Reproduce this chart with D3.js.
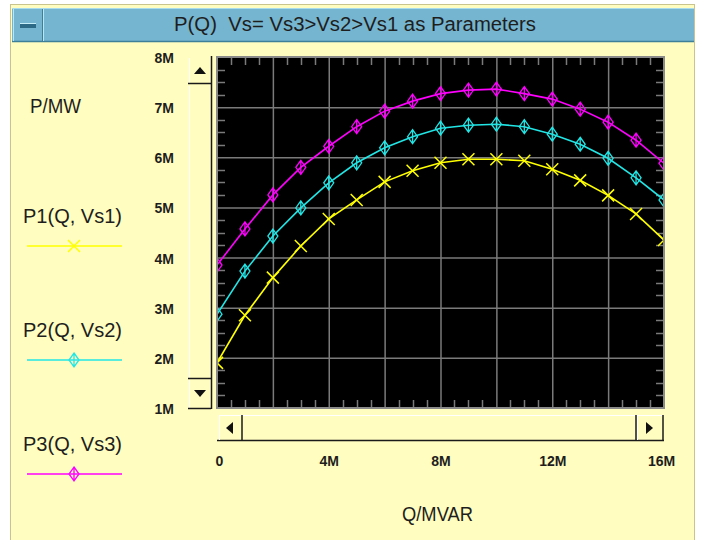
<!DOCTYPE html>
<html>
<head>
<meta charset="utf-8">
<script src="https://cdn.jsdelivr.net/npm/d3@7"></script>
<style>
  body { margin: 0; background: #ffffff; }
  text { font-family: "Liberation Sans", Arial, sans-serif; }
</style>
</head>
<body>
<div id="chart"></div>
<script>
// Q in M VAR, P in M W
var qValues = [0, 1, 2, 3, 4, 5, 6, 7, 8, 9, 10, 11, 12, 13, 14, 15, 16];
var p1Values = [1.9, 2.85, 3.6, 4.23, 4.77, 5.15, 5.51, 5.73, 5.89, 5.96, 5.96, 5.93, 5.76, 5.54, 5.24, 4.87, 4.35];
var p2Values = [2.87, 3.73, 4.43, 4.99, 5.49, 5.89, 6.19, 6.41, 6.58, 6.64, 6.66, 6.61, 6.46, 6.26, 5.98, 5.59, 5.15];
var p3Values = [3.85, 4.57, 5.25, 5.8, 6.22, 6.61, 6.92, 7.12, 7.27, 7.34, 7.36, 7.27, 7.16, 6.96, 6.7, 6.34, 5.88];
var seriesNames = ["P1(Q, Vs1)", "P2(Q, Vs2)", "P3(Q, Vs3)"];
var xTickValues = [0, 4, 8, 12, 16];
var yTickValues = [1, 2, 3, 4, 5, 6, 7, 8];

(function() {
  var width = 702, height = 540;
  var plot = { left: 217, right: 664, top: 57, bottom: 408 };

  var svg = d3.select("#chart")
    .append("svg")
    .attr("width", width)
    .attr("height", height);

  var yellowBg = "#fffdbf";
  var textColour = "#1e1e1e";

  // narrow looking window font: squeeze text to the measured width
  function label(x, y, str, size, len, anchor) {
    return svg.append("text")
      .attr("x", x).attr("y", y)
      .attr("text-anchor", anchor || "start")
      .attr("font-size", size + "px")
      .attr("fill", textColour)
      .attr("textLength", len)
      .attr("lengthAdjust", "spacingAndGlyphs")
      .style("white-space", "pre")
      .text(str);
  }

  // window frame
  svg.append("rect")
    .attr("x", 10.5).attr("y", 4.5)
    .attr("width", 684).attr("height", 540)
    .attr("fill", yellowBg)
    .attr("stroke", "#c9c38e");

  // title bar
  svg.append("rect")
    .attr("x", 12).attr("y", 8)
    .attr("width", 682).attr("height", 33)
    .attr("fill", "#76b5cf");
  svg.append("line")
    .attr("x1", 12).attr("x2", 694).attr("y1", 8.5).attr("y2", 8.5)
    .attr("stroke", "#a9dcec");
  svg.append("line")
    .attr("x1", 12).attr("x2", 694).attr("y1", 41.5).attr("y2", 41.5)
    .attr("stroke", "#3d7f99").attr("stroke-width", 1.5);
  // minimize button
  svg.append("line")
    .attr("x1", 42.5).attr("x2", 42.5).attr("y1", 9).attr("y2", 41)
    .attr("stroke", "#3d7f99");
  svg.append("line")
    .attr("x1", 43.5).attr("x2", 43.5).attr("y1", 9).attr("y2", 41)
    .attr("stroke", "#b8e6f2");
  svg.append("line")
    .attr("x1", 13.5).attr("x2", 13.5).attr("y1", 9).attr("y2", 41)
    .attr("stroke", "#b8e6f2");
  svg.append("rect")
    .attr("x", 20).attr("y", 23)
    .attr("width", 16).attr("height", 5)
    .attr("fill", "#2c6a86");
  svg.append("line")
    .attr("x1", 20).attr("x2", 36).attr("y1", 23.5).attr("y2", 23.5)
    .attr("stroke", "#c6eef8");

  label(174, 31, "P(Q)  Vs= Vs3>Vs2>Vs1 as Parameters", 20, 362);

  var xPositionScale = d3.scaleLinear().domain([0, 16]).range([plot.left, plot.right]);
  var yPositionScale = d3.scaleLinear().domain([1, 8]).range([plot.bottom, plot.top]);

  // vertical scrollbar
  var vs = svg.append("g");
  vs.append("line").attr("x1", 211.5).attr("x2", 211.5).attr("y1", 56).attr("y2", 409)
    .attr("stroke", "#1a1a1a").attr("stroke-width", 1.5);
  vs.append("line").attr("x1", 189.5).attr("x2", 189.5).attr("y1", 86).attr("y2", 378)
    .attr("stroke", "#ffffff");
  vs.append("line").attr("x1", 189.5).attr("x2", 189.5).attr("y1", 58).attr("y2", 83)
    .attr("stroke", "#ffffff");
  vs.append("line").attr("x1", 188).attr("x2", 211).attr("y1", 83.5).attr("y2", 83.5)
    .attr("stroke", "#1a1a1a").attr("stroke-width", 1.5);
  vs.append("line").attr("x1", 188).attr("x2", 211).attr("y1", 378.5).attr("y2", 378.5)
    .attr("stroke", "#1a1a1a").attr("stroke-width", 1.5);
  vs.append("line").attr("x1", 189.5).attr("x2", 189.5).attr("y1", 380).attr("y2", 408)
    .attr("stroke", "#ffffff");
  vs.append("line").attr("x1", 188).attr("x2", 211).attr("y1", 408.5).attr("y2", 408.5)
    .attr("stroke", "#1a1a1a").attr("stroke-width", 1.5);
  vs.append("path").attr("d", "M194,74 L206,74 L200,67 Z").attr("fill", "#111");
  vs.append("path").attr("d", "M194,390 L206,390 L200,397 Z").attr("fill", "#111");

  // horizontal scrollbar
  var hs = svg.append("g");
  hs.append("line").attr("x1", 217).attr("x2", 664).attr("y1", 440.5).attr("y2", 440.5)
    .attr("stroke", "#1a1a1a").attr("stroke-width", 1.5);
  hs.append("line").attr("x1", 219).attr("x2", 662).attr("y1", 415.5).attr("y2", 415.5)
    .attr("stroke", "#ffffff");
  hs.append("line").attr("x1", 242).attr("x2", 242).attr("y1", 415).attr("y2", 441)
    .attr("stroke", "#1a1a1a").attr("stroke-width", 1.5);
  hs.append("line").attr("x1", 219.5).attr("x2", 219.5).attr("y1", 415).attr("y2", 440)
    .attr("stroke", "#ffffff");
  hs.append("line").attr("x1", 637.5).attr("x2", 637.5).attr("y1", 415).attr("y2", 440)
    .attr("stroke", "#ffffff");
  hs.append("line").attr("x1", 636).attr("x2", 636).attr("y1", 415).attr("y2", 441)
    .attr("stroke", "#1a1a1a").attr("stroke-width", 1.5);
  hs.append("line").attr("x1", 663).attr("x2", 663).attr("y1", 415).attr("y2", 441)
    .attr("stroke", "#1a1a1a").attr("stroke-width", 1.5);
  hs.append("path").attr("d", "M226,428 L233,422 L233,434 Z").attr("fill", "#111");
  hs.append("path").attr("d", "M653,428 L646,422 L646,434 Z").attr("fill", "#111");

  // plot background
  svg.append("rect")
    .attr("x", plot.left).attr("y", plot.top)
    .attr("width", plot.right - plot.left).attr("height", plot.bottom - plot.top)
    .attr("fill", "#000000");

  var gridColor = "#7a7a7a";

  // grid lines
  svg.append("g")
    .selectAll("line")
    .data(d3.range(2, 16, 2))
    .enter().append("line")
    .attr("x1", function(d) { return xPositionScale(d) + 0.5 })
    .attr("x2", function(d) { return xPositionScale(d) + 0.5 })
    .attr("y1", plot.top).attr("y2", plot.bottom)
    .attr("stroke", gridColor).attr("stroke-width", 1.5);

  svg.append("g")
    .selectAll("line")
    .data(d3.range(2, 8, 1))
    .enter().append("line")
    .attr("y1", function(d) { return yPositionScale(d) + 0.5 })
    .attr("y2", function(d) { return yPositionScale(d) + 0.5 })
    .attr("x1", plot.left).attr("x2", plot.right)
    .attr("stroke", gridColor).attr("stroke-width", 1.5);

  // minor ticks
  var xMinor = d3.range(0.5, 16, 0.5).filter(function(d) { return d % 2 != 0 });
  var yMinor = d3.range(1.25, 8, 0.25).filter(function(d) { return d % 1 != 0 });

  var minor = svg.append("g").attr("stroke", gridColor).attr("stroke-width", 1.5);
  xMinor.forEach(function(d) {
    var x = Math.round(xPositionScale(d)) + 0.5;
    minor.append("line").attr("x1", x).attr("x2", x).attr("y1", plot.bottom).attr("y2", plot.bottom - 8);
    minor.append("line").attr("x1", x).attr("x2", x).attr("y1", plot.top).attr("y2", plot.top + 8);
  });
  yMinor.forEach(function(d) {
    var y = Math.round(yPositionScale(d)) + 0.5;
    minor.append("line").attr("y1", y).attr("y2", y).attr("x1", plot.left).attr("x2", plot.left + 8);
    minor.append("line").attr("y1", y).attr("y2", y).attr("x1", plot.right).attr("x2", plot.right - 8);
  });

  // plot border
  svg.append("rect")
    .attr("x", plot.left).attr("y", plot.top)
    .attr("width", plot.right - plot.left).attr("height", plot.bottom - plot.top)
    .attr("fill", "none")
    .attr("stroke", "#8a8a8a").attr("stroke-width", 2);

  // axes (labels only)
  var xAxis = d3.axisBottom(xPositionScale)
    .tickValues(xTickValues)
    .tickSize(0)
    .tickFormat(function(d) { return d == 0 ? "0" : d + "M" });

  var xg = svg.append("g")
    .attr("class", "axis x-axis")
    .attr("transform", "translate(0,453)")
    .call(xAxis);
  xg.select(".domain").remove();
  xg.selectAll("text")
    .attr("font-family", "'Liberation Sans', Arial, sans-serif")
    .attr("font-size", "14px")
    .attr("font-weight", "bold")
    .attr("fill", textColour);
  xg.selectAll(".tick text")
    .attr("dx", function(d) { return d == 0 ? 2 : (d == 16 ? -3 : 0) });

  var yAxis = d3.axisLeft(yPositionScale)
    .tickValues(yTickValues)
    .tickSize(0)
    .tickFormat(function(d) { return d + "M" });

  var yg = svg.append("g")
    .attr("class", "axis y-axis")
    .attr("transform", "translate(174,1)")
    .call(yAxis);
  yg.select(".domain").remove();
  yg.selectAll("text")
    .attr("x", 0)
    .attr("font-family", "'Liberation Sans', Arial, sans-serif")
    .attr("font-size", "14px")
    .attr("font-weight", "bold")
    .attr("fill", textColour);

  // axis titles
  label(30, 113, "P/MW", 20, 51);
  label(402, 521, "Q/MVAR", 20, 71);

  // series
  var series = [
    { name: seriesNames[0], values: p1Values, colour: "#ffff00", marker: "x" },
    { name: seriesNames[1], values: p2Values, colour: "#22e6e6", marker: "diamond" },
    { name: seriesNames[2], values: p3Values, colour: "#ff00ff", marker: "diamond" }
  ];

  svg.append("clipPath")
    .attr("id", "plot-clip")
    .append("rect")
    .attr("x", plot.left + 1).attr("y", plot.top + 1)
    .attr("width", plot.right - plot.left - 2).attr("height", plot.bottom - plot.top - 2);

  var line = d3.line()
    .x(function(d) { return xPositionScale(d.q) })
    .y(function(d) { return yPositionScale(d.p) });

  function drawMarker(g, type, x, y, colour) {
    if (type == "x") {
      g.append("path")
        .attr("d", "M" + (x - 6) + "," + (y - 6) + "L" + (x + 6) + "," + (y + 6) +
                   "M" + (x - 6) + "," + (y + 6) + "L" + (x + 6) + "," + (y - 6))
        .attr("stroke", colour).attr("stroke-width", 1.5).attr("fill", "none");
    } else {
      g.append("path")
        .attr("d", "M" + x + "," + (y - 7) + "L" + (x + 5) + "," + y + "L" + x + "," + (y + 7) +
                   "L" + (x - 5) + "," + y + "Z" +
                   "M" + x + "," + (y - 6) + "L" + x + "," + (y + 6))
        .attr("stroke", colour).attr("stroke-width", 1.3).attr("fill", "none");
    }
  }

  var plotArea = svg.append("g").attr("clip-path", "url(#plot-clip)");

  series.forEach(function(s) {
    var pts = qValues.map(function(q, i) { return { q: q, p: s.values[i] } });
    plotArea.append("path")
      .datum(pts)
      .attr("d", line)
      .attr("fill", "none")
      .attr("stroke", s.colour)
      .attr("stroke-width", 1.6);
    pts.forEach(function(d) {
      drawMarker(plotArea, s.marker, xPositionScale(d.q), yPositionScale(d.p), s.colour);
    });
  });

  // legend
  var legendY = [223, 337, 451];
  var legendLineY = [246, 360, 474];
  series.forEach(function(s, i) {
    label(23, legendY[i], s.name, 20, 99);
    svg.append("line")
      .attr("x1", 27).attr("x2", 122)
      .attr("y1", legendLineY[i]).attr("y2", legendLineY[i])
      .attr("stroke", s.colour).attr("stroke-width", 1.6);
    drawMarker(svg, s.marker, 74, legendLineY[i], s.colour);
  });
})();
</script>
</body>
</html>
